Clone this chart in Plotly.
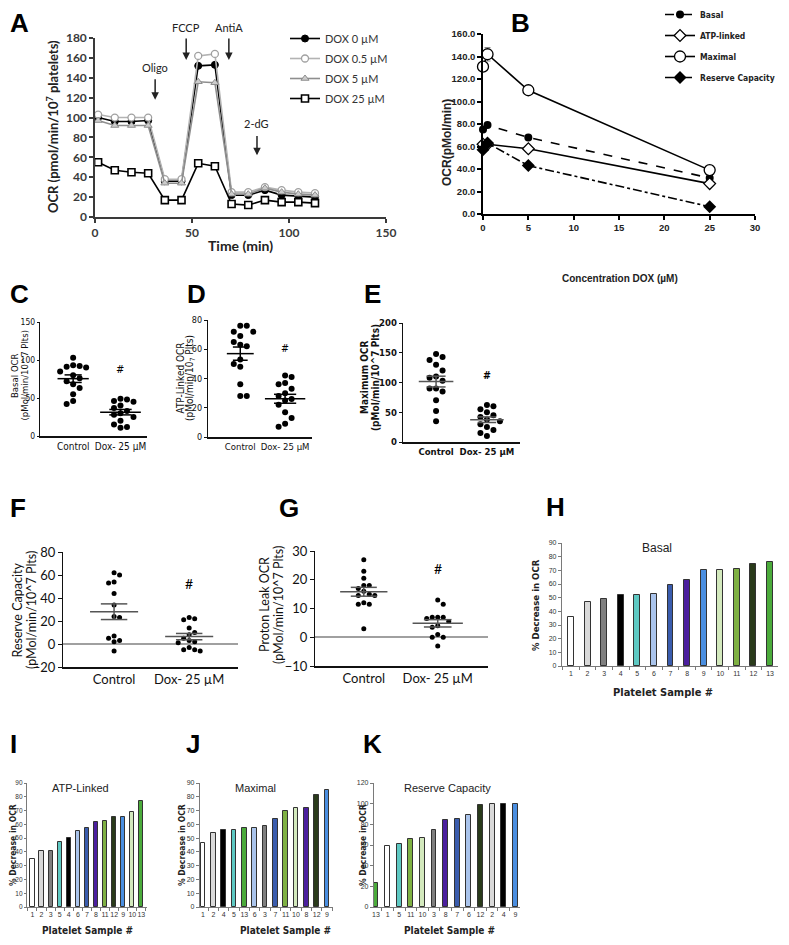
import numpy as np
import plotly.graph_objects as go

# ======================= DATA =======================
# Panel A - OCR trace over time
time_min = [1.6, 10.2, 18.8, 27.4, 36.0, 44.6, 53.2, 61.8, 70.4, 79.0, 87.6, 96.2, 104.8, 113.4]
ocr_dox_0 = [100, 96, 96, 97, 36, 36, 152, 153, 22, 22, 27, 22, 21, 20]
ocr_dox_0_5 = [103, 100, 100, 100, 38, 38, 162, 164, 25, 25, 30, 27, 25, 24]
ocr_dox_5 = [97, 92, 92, 92, 34, 34, 136, 135, 23, 23, 29, 25, 23, 22]
ocr_dox_25 = [55, 47, 45, 44, 17, 17, 54, 51, 13, 12, 17, 15, 15, 14]
a_series_names = ["DOX 0 µM", "DOX 0.5 µM", "DOX 5 µM", "DOX 25 µM"]
injection_names = ["Oligo", "FCCP", "AntiA", "2-dG"]
injection_times = [31, 47, 69, 83.5]

# Panel B - dose response
dox_conc = [0, 0.5, 5, 25]
b_basal = [75, 79, 68, 32]
b_atp_linked = [62, 62, 58, 27]
b_maximal = [131, 142, 110, 39]
b_maximal_err = [0, 6, 0, 0]
b_reserve = [57, 63, 43, 6.5]
b_series_names = ["Basal", "ATP-linked", "Maximal", "Reserve Capacity"]

# Panels C-G - individual platelet samples
group_labels = ["Control", "Dox- 25 µM"]
basal_ctrl = [103, 93, 92, 91, 90, 85, 80, 76, 72, 68, 63, 55, 46, 42]
basal_dox = [49, 48, 46, 45, 40, 37, 33, 30, 28, 25, 20, 15, 12, 11]
atp_ctrl = [76, 76, 72, 72, 69, 65, 63, 62, 53, 50, 48, 36, 28, 28]
atp_dox = [42, 41, 37, 36, 33, 30, 28, 26, 25, 22, 17, 13, 9, 7]
max_ctrl = [148, 143, 138, 130, 120, 110, 108, 103, 90, 90, 85, 70, 52, 35]
max_dox = [62, 60, 55, 50, 45, 42, 38, 35, 30, 25, 20, 15, 10]
reserve_ctrl = [62, 60, 54, 53, 44, 34, 24, 23, 7, 5, 3, 2, -6]
reserve_dox = [23, 22, 21, 14, 10, 8, 5, 3, 2, 1, -3, -5, -6, -5]
leak_ctrl = [27, 23, 20.5, 18, 18, 17, 16, 15, 14.5, 14.5, 12, 11.5, 11.5, 3]
leak_dox = [13, 11.5, 7, 7, 7, 6.5, 5.5, 4, 3.5, 1, 0, 0, -3]

# Panels H-K - % decrease per platelet sample
h_samples = ["1", "2", "3", "4", "5", "6", "7", "8", "9", "10", "11", "12", "13"]
h_basal_decrease = [36, 47, 49, 52, 52, 53, 59, 63, 70, 70, 71, 75, 76]
i_samples = ["1", "2", "3", "5", "4", "6", "7", "8", "11", "12", "9", "10", "13"]
i_atp_decrease = [35, 41, 41, 47, 50, 55, 57, 62, 62.5, 65, 65, 69, 77]
j_samples = ["1", "2", "4", "5", "13", "6", "3", "7", "11", "10", "8", "12", "9"]
j_maximal_decrease = [46.5, 53.5, 56, 56, 57, 57, 59, 64, 70, 71.5, 72, 81, 85]
k_samples = ["13", "1", "5", "11", "10", "3", "8", "7", "6", "12", "2", "4", "9"]
k_reserve_decrease = [23.5, 59, 60.5, 65.5, 66.5, 75, 84.5, 85.5, 89, 99, 100, 100, 100]

# ======================= STYLE / LAYOUT =======================
# figure sized so that the page (with the browser's 8px body margin) fills the window
FW, FH = 773, 929
OX, OY = 8, 8
LATO = "Lato, Open Sans, sans-serif"
ARIAL = "Liberation Sans, Arial, sans-serif"
NARROW = "DejaVu Sans Condensed, Liberation Sans Narrow, Liberation Sans, sans-serif"

sample_colors = {
    "1": "#ffffff", "2": "#d9d9d9", "3": "#7f7f7f", "4": "#000000",
    "5": "#5ec9c3", "6": "#aac4ec", "7": "#3a5cad", "8": "#4b1f9e",
    "9": "#4a8ee0", "10": "#d3e9bd", "11": "#7fb143", "12": "#2a3b1b",
    "13": "#4bab3b",
}


def fx(p):
    return (p - OX) / FW


def fy(p):
    return 1 - (p - OY) / FH


fig = go.Figure()


def names(n):
    s = "" if n == 1 else str(n)
    return "x" + s, "y" + s, "xaxis" + s, "yaxis" + s


def set_axes(n, box, xkw, ykw):
    l, r, t, b = box
    xr, yr, xn, yn = names(n)
    base = dict(showgrid=False, zeroline=False, showline=True, ticks="outside", tickangle=0)
    xa = dict(base, domain=[fx(l), fx(r)], anchor=yr)
    xa.update(xkw)
    ya = dict(base, domain=[fy(b), fy(t)], anchor=xr)
    ya.update(ykw)
    fig.update_layout({xn: xa, yn: ya})


def ptext(px, py, s, size, family, color="black", weight="normal", angle=0, xanchor="center"):
    fig.add_annotation(x=fx(px), y=fy(py), xref="paper", yref="paper", text=s,
                       showarrow=False, textangle=angle, xanchor=xanchor, yanchor="middle",
                       font=dict(size=size, family=family, color=color, weight=weight))


# ---------------- Panel A ----------------
boxA = (95, 386, 38, 217)
tickA = dict(size=12, family=LATO, color="#3a3a3a", weight="bold")
set_axes(1, boxA,
         dict(range=[0, 150], tickvals=[0, 50, 100, 150], linecolor="#3a3a3a", linewidth=1.5,
              tickcolor="#3a3a3a", ticklen=4, tickwidth=1.5, tickfont=tickA),
         dict(range=[0, 180], dtick=20, linecolor="#3a3a3a", linewidth=1.5,
              tickcolor="#3a3a3a", ticklen=4, tickwidth=1.5, tickfont=tickA))

a_styles = [
    (ocr_dox_0, dict(color="black", width=1.6),
     dict(symbol="circle", size=7, color="black", line=dict(color="black", width=1))),
    (ocr_dox_0_5, dict(color="#b3b3b3", width=1.6),
     dict(symbol="circle", size=7, color="white", line=dict(color="#a0a0a0", width=1.3))),
    (ocr_dox_5, dict(color="#8e8e8e", width=1.6),
     dict(symbol="triangle-up", size=7, color="#cccccc", line=dict(color="#8e8e8e", width=1))),
    (ocr_dox_25, dict(color="black", width=1.6),
     dict(symbol="square", size=7, color="white", line=dict(color="black", width=1.6))),
]
for (vals, ln, mk), nm in zip(a_styles, a_series_names):
    fig.add_trace(go.Scatter(x=time_min, y=vals, mode="lines+markers", name=nm, line=ln, marker=mk,
                             xaxis="x", yaxis="y", legend="legend", legendgroup=nm, cliponaxis=False))

# label positions (pixel rows) and arrow spans (OCR units) for the injection markers
inj_text_row = [67, 27, 27, 123]
inj_arrow_top = [140, 181, 181, 83]
inj_head_y = [118, 158, 158, 62]
for nm, t, tr, at, hy in zip(injection_names, injection_times, inj_text_row, inj_arrow_top, inj_head_y):
    fig.add_annotation(x=t, y=fy(tr), xref="x", yref="paper", text=nm, showarrow=False,
                       yanchor="middle", font=dict(size=11, family=LATO, color="#222222"))
    fig.add_annotation(x=t, y=hy, ax=t, ay=at, xref="x", yref="y", axref="x", ayref="y",
                       text="", showarrow=True, arrowhead=2, arrowsize=1, arrowwidth=1.5,
                       arrowcolor="#222222")

ptext(52, 127, "OCR (pmol/min/10<sup>7</sup> platelets)", 13, LATO, "#222222", "bold", -90)
ptext(240, 246, "Time (min)", 14, LATO, "#222222", "bold")

# ---------------- Panel B ----------------
boxB = (483, 755, 34, 214)
tickB = dict(size=9.5, family=ARIAL, color="#222222", weight="bold")
set_axes(2, boxB,
         dict(range=[0, 30], dtick=5, linecolor="black", linewidth=1.5, tickcolor="black",
              ticklen=4, tickwidth=1.5, tickfont=tickB),
         dict(range=[0, 160], dtick=20, tickformat=".1f", linecolor="black", linewidth=1.5,
              tickcolor="black", ticklen=4, tickwidth=1.5, tickfont=tickB))

b_styles = [
    (b_basal, None, dict(color="black", width=1.6, dash="dash"),
     dict(symbol="circle", size=8, color="black")),
    (b_atp_linked, None, dict(color="black", width=1.6),
     dict(symbol="diamond", size=9, color="white", line=dict(color="black", width=1.3))),
    (b_maximal, b_maximal_err, dict(color="black", width=1.6),
     dict(symbol="circle", size=11, color="white", line=dict(color="black", width=1.3))),
    (b_reserve, None, dict(color="black", width=1.6, dash="dashdot"),
     dict(symbol="diamond", size=10, color="black")),
]
for (vals, err, ln, mk), nm in zip(b_styles, b_series_names):
    ekw = {}
    if err is not None:
        ekw = dict(error_y=dict(type="data", array=err, visible=True, color="#888888", width=3, thickness=1))
    fig.add_trace(go.Scatter(x=dox_conc, y=vals, mode="lines+markers", name=nm, line=ln, marker=mk,
                             xaxis="x2", yaxis="y2", legend="legend2", legendgroup=nm,
                             cliponaxis=False, **ekw))

ptext(447, 143, "OCR(pMol/min)", 12, ARIAL, "#222222", "bold", -90)
ptext(620, 278, "Concentration DOX (µM)", 10, ARIAL, "#222222", "bold")

# ---------------- Panels C-G ----------------
dot_panels = [
    dict(n=3, box=(40, 147, 322, 436), xr=[-0.7, 1.56], yr=[0, 150], dtick=50,
         ctrl=basal_ctrl, dox=basal_dox, hw=(0.33, 0.43), lc="black", font=NARROW, ts=10, yts=8.5,
         tl=2, weight="normal", dot=6, hash_y=87,
         ytitle=[("Basal OCR", 14), ("(pMol/min/10^7 Plts)", 23.5)], ty=376, tsz=9.5, zero=False),
    dict(n=4, box=(208, 312, 320, 437), xr=[-0.72, 1.6], yr=[0, 80], dtick=20,
         ctrl=atp_ctrl, dox=atp_dox, hw=(0.3, 0.45), lc="black", font=NARROW, ts=9.5, yts=9,
         tl=3, weight="normal", dot=6, hash_y=61,
         ytitle=[("ATP-Linked OCR", 179.5), ("(pMol/min/10<sub>7</sub> Plts)", 190)], ty=378, tsz=10,
         zero=False),
    dict(n=5, box=(403, 520, 323, 442), xr=[-0.65, 1.65], yr=[0, 200], dtick=50,
         ctrl=max_ctrl, dox=max_dox, hw=(0.34, 0.33), lc="#555555", font=NARROW, ts=9.5, yts=9.5,
         tl=3, weight="bold", dot=6, hash_y=113,
         ytitle=[("Maximum OCR", 364), ("(pMol/min/10^7 Plts)", 375)], ty=378, tsz=10, zero=False),
    dict(n=6, box=(63, 238, 552, 667), xr=[-0.68, 1.65], yr=[-20, 80], dtick=20,
         ctrl=reserve_ctrl, dox=reserve_dox, hw=(0.32, 0.32), lc="#555555", font=LATO, ts=13, yts=13,
         tl=4, weight="normal", dot=5, hash_y=53,
         ytitle=[("Reserve Capacity", 16.5), ("(pMol/min/10^7 Plts)", 31)], ty=610, tsz=12.5, zero=True),
    dict(n=7, box=(315, 488, 551, 666), xr=[-0.66, 1.68], yr=[-10, 30], dtick=10,
         ctrl=leak_ctrl, dox=leak_dox, hw=(0.32, 0.34), lc="#555555", font=LATO, ts=13, yts=13,
         tl=4, weight="normal", dot=5, hash_y=24,
         ytitle=[("Proton Leak OCR", 264), ("(pMol/min/10^7 Plts)", 278)], ty=605, tsz=12.5, zero=True),
]


def swarm(vals, center, box, xr, yr, diam):
    l, r, t, b = box
    ux = (r - l) / (xr[1] - xr[0])
    uy = (b - t) / (yr[1] - yr[0])
    placed = []
    xs = []
    side = 1
    for v in vals:
        py = v * uy
        chosen = 0.0
        for k in [0, 1, 2, 3, 4]:
            cands = [0.0] if k == 0 else [side * k * diam, -side * k * diam]
            ok = None
            for c in cands:
                if all((c - qx) ** 2 + (py - qy) ** 2 >= (diam * 0.98) ** 2 for qx, qy in placed):
                    ok = c
                    break
            if ok is not None:
                chosen = ok
                if ok != 0:
                    side = -side
                break
        placed.append((chosen, py))
        xs.append(center + chosen / ux)
    return xs


for p in dot_panels:
    n = p["n"]
    xr_, yr_, _, _ = names(n)
    tf = dict(size=p["ts"], family=p["font"], color="#111111", weight=p["weight"])
    ytf = dict(tf, size=p["yts"])
    ykw = dict(range=p["yr"], dtick=p["dtick"], linecolor="#111111", linewidth=1.3, tickcolor="#111111",
               ticklen=p["tl"], tickfont=ytf)
    if p["zero"]:
        ykw.update(zeroline=True, zerolinecolor="#a0a0a0", zerolinewidth=1.5)
    set_axes(n, p["box"],
             dict(range=p["xr"], tickvals=[0, 1], ticktext=group_labels, ticks="", linecolor="#111111",
                  linewidth=1.5, tickfont=tf),
             ykw)
    for gi, vals in enumerate([p["ctrl"], p["dox"]]):
        vs = sorted(vals, reverse=True)
        xs = swarm(vs, gi, p["box"], p["xr"], p["yr"], p["dot"] + 0.5)
        fig.add_trace(go.Scatter(x=xs, y=vs, mode="markers", xaxis=xr_, yaxis=yr_, showlegend=False,
                                 marker=dict(size=p["dot"], color="black"), cliponaxis=False))
        arr = np.array(vals, dtype=float)
        m = arr.mean()
        s = arr.std(ddof=1) / np.sqrt(len(arr))
        hw = p["hw"][gi]
        cw = hw * 0.55
        fig.add_trace(go.Scatter(
            x=[gi - hw, gi + hw, None, gi, gi, None, gi - cw, gi + cw, None, gi - cw, gi + cw],
            y=[m, m, None, m - s, m + s, None, m + s, m + s, None, m - s, m - s],
            mode="lines", line=dict(color=p["lc"], width=1.5), xaxis=xr_, yaxis=yr_,
            showlegend=False, hoverinfo="skip"))
    fig.add_annotation(x=1, y=p["hash_y"], xref=xr_, yref=yr_, text="#", showarrow=False,
                       font=dict(size=p["ts"] + 1, family=p["font"], color="black", weight=p["weight"]))
    for txt, px in p["ytitle"]:
        ptext(px, p["ty"], txt, p["tsz"], p["font"], "#111111", p["weight"], -90)

# ---------------- Panels H-K ----------------
bar_panels = [
    dict(n=8, box=(562, 778, 543, 666), xr=[-0.54, 12.48], yr=[0, 90], dtick=10,
         cats=h_samples, vals=h_basal_decrease, bw=0.36, title="Basal", tpos=(657, 548), tsize=12,
         ytpos=(535, 605), xtpos=(663, 692), lsize=11, tl=3),
    dict(n=9, box=(27, 147, 783, 907), xr=[-0.6, 12.62], yr=[0, 90], dtick=10,
         cats=i_samples, vals=i_atp_decrease, bw=0.46, title="ATP-Linked", tpos=(80, 788), tsize=11,
         ytpos=(13, 845), xtpos=(87, 930), lsize=10, tl=2),
    dict(n=10, box=(200, 333, 783, 907), xr=[-0.29, 12.58], yr=[0, 90], dtick=10,
         cats=j_samples, vals=j_maximal_decrease, bw=0.45, title="Maximal", tpos=(255, 788), tsize=11,
         ytpos=(182, 845), xtpos=(285, 930), lsize=10, tl=3),
    dict(n=11, box=(374, 520, 783, 907), xr=[-0.17, 12.4], yr=[0, 120], dtick=20,
         cats=k_samples, vals=k_reserve_decrease, bw=0.42, title="Reserve Capacity", tpos=(447, 788),
         tsize=11, ytpos=(363, 845), xtpos=(449, 930), lsize=10, tl=3),
]
for p in bar_panels:
    n = p["n"]
    xr_, yr_, _, _ = names(n)
    tf = dict(size=7, family=ARIAL, color="#333333")
    set_axes(n, p["box"],
             dict(type="category", categoryorder="array", categoryarray=p["cats"], range=p["xr"],
                  tickson="boundaries", linecolor="#7a7a7a", linewidth=1.2, tickcolor="#7a7a7a",
                  ticklen=3, tickfont=tf),
             dict(range=p["yr"], dtick=p["dtick"], linecolor="#7a7a7a", linewidth=1.2, tickcolor="#7a7a7a",
                  ticklen=p["tl"], tickfont=dict(tf, size=6.5 if p["tl"] == 2 else 7)))
    fig.add_trace(go.Bar(x=p["cats"], y=p["vals"], width=p["bw"], xaxis=xr_, yaxis=yr_, showlegend=False,
                         marker=dict(color=[sample_colors[c] for c in p["cats"]],
                                     line=dict(color="#333333", width=1))))
    ptext(p["tpos"][0], p["tpos"][1], p["title"], p["tsize"], ARIAL, "#222222")
    ptext(p["ytpos"][0], p["ytpos"][1], "% Decrease in OCR", p["lsize"] - 1.5, NARROW, "#222222", "bold", -90)
    ptext(p["xtpos"][0], p["xtpos"][1], "Platelet Sample #", p["lsize"], NARROW, "#222222", "bold")

# ---------------- Panel letters (left edge, vertical centre) ----------------
letters = [("A", 3, 17), ("B", 509, 13), ("C", 0, 294), ("D", 185, 294), ("E", 362, 294),
           ("F", 4, 508), ("G", 277, 508), ("H", 544, 507), ("I", 2, 744), ("J", 184, 744),
           ("K", 361, 744)]
for L, px, py in letters:
    fig.add_annotation(x=max(fx(px), 0), y=fy(max(py, 23)), xref="paper", yref="paper", text=L,
                       showarrow=False, xanchor="left", yanchor="middle",
                       font=dict(size=26, family=ARIAL, color="black", weight="bold"))

fig.update_layout(
    width=FW, height=FH, autosize=False,
    margin=dict(l=0, r=0, t=0, b=0, autoexpand=False),
    paper_bgcolor="white", plot_bgcolor="white", bargap=0,
    legend=dict(x=fx(325 - 40), y=fy(24), xanchor="left", yanchor="top",
                font=dict(size=11, family=LATO, color="#333333"), tracegroupgap=1,
                bgcolor="rgba(0,0,0,0)"),
    legend2=dict(x=fx(700 - 40), y=fy(0), xanchor="left", yanchor="top",
                 font=dict(size=8.5, family=NARROW, color="#222222", weight="bold"), tracegroupgap=2,
                 bgcolor="rgba(0,0,0,0)"),
)

fig.write_html("out.html")
